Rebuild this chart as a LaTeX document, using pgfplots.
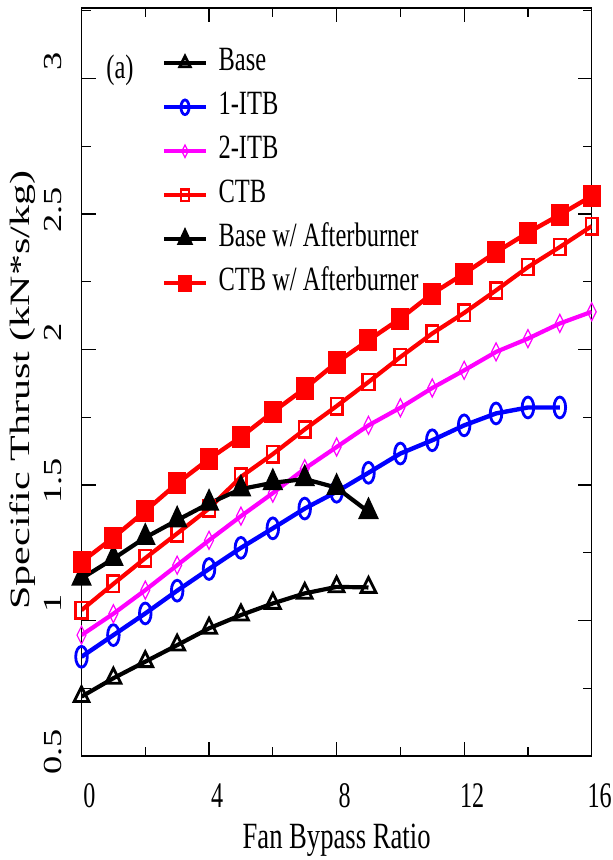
\documentclass[border=0pt]{standalone}
\usepackage{fontspec}
\setmainfont[FakeStretch=0.72]{Liberation Serif}
\newfontfamily\tickfont[FakeStretch=0.67]{Liberation Serif}
\newfontfamily\rotfont[FakeStretch=1.4]{Liberation Serif}
\newfontfamily\rotlabfont[FakeStretch=1.5]{Liberation Serif}
\usepackage{pgfplots}
\pgfplotsset{compat=1.18}
\definecolor{cblue}{RGB}{0,0,255}
\definecolor{cred}{RGB}{255,0,0}
\definecolor{cmag}{RGB}{255,0,255}

\begin{document}
\begin{tikzpicture}
\path[use as bounding box] (0,0) rectangle (306.5pt,430pt);
\begin{axis}[
  at={(40.75pt,52pt)}, anchor=south west,
  scale only axis, width=255.1pt, height=374pt,
  xmin=0, xmax=16, ymin=0.5, ymax=3.26,
  xtick={0,4,8,12,16}, minor xtick={2,6,10,14},
  ytick={0.5,1,1.5,2,2.5,3}, minor ytick={0.75,1.25,1.75,2.25,2.75,3.25},
  tick align=inside,
  major tick length=7pt, minor tick length=4.5pt,
  every tick/.style={black, line width=0.6pt},
  axis line style={line width=0.6pt},
  /pgf/number format/assume math mode=true,
  xticklabel style={font=\tickfont\fontsize{18}{18}\selectfont, anchor=north, inner sep=0pt, xshift=4pt, yshift=-13.5pt},
  yticklabel style={font=\rotfont\fontsize{13}{13}\selectfont, inner sep=0pt, xshift=-10.25pt, yshift=13.5pt, rotate=90, anchor=base east},
  xlabel={Fan Bypass Ratio},
  xlabel style={font=\fontsize{18.5}{18.5}\selectfont, at={(axis description cs:0.5,0)}, anchor=base, yshift=-46pt, inner sep=0pt},
  ylabel={Specific Thrust (kN*s/kg)},
  ylabel style={font=\rotlabfont\fontsize{14}{14}\selectfont, at={(axis description cs:-0.1147,0.489)}, anchor=center, inner sep=0pt},
  legend image code/.code={\draw[mark repeat=2,mark phase=2,#1, every mark/.append style={scale=0.7}] plot coordinates {(0pt,0pt) (10.4pt,0pt) (20.8pt,0pt)};},
  legend cell align=left,
  legend style={at={(axis description cs:0.157,0.944)}, anchor=north west, draw=none, fill=none,
    font=\fontsize{17}{17}\selectfont, inner sep=0pt, row sep=9pt, column sep=5.3pt,
    nodes={inner sep=0pt, text height=10pt, text depth=3pt}},
]
% Base
\addplot[black, line width=2.1pt, mark=triangle, mark size=4.3pt, mark options={solid, line width=1.4pt, yscale=1.15}] coordinates {
(0,0.719) (1,0.787) (2,0.848) (3,0.909) (4,0.971) (5,1.020) (6,1.063) (7,1.100) (8,1.124) (9,1.122)};
\addlegendentry{Base}
% 1-ITB
\addplot[cblue, line width=2.2pt, mark=o, mark size=2.9pt, mark options={solid, line width=1.4pt, yscale=1.8}] coordinates {
(0,0.866) (1,0.946) (2,1.026) (3,1.110) (4,1.190) (5,1.268) (6,1.340) (7,1.413) (8,1.475) (9,1.545) (10,1.616) (11,1.665) (12,1.720) (13,1.764) (14,1.786) (15,1.786)};
\addlegendentry{1-ITB}
% 2-ITB
\addplot[cmag, line width=2.1pt, mark=diamond, mark size=3pt, mark options={solid, line width=0.6pt, yscale=1.5}] coordinates {
(0,0.946) (1,1.025) (2,1.112) (3,1.204) (4,1.296) (5,1.385) (6,1.470) (7,1.560) (8,1.640) (9,1.720) (10,1.785) (11,1.858) (12,1.923) (13,1.991) (14,2.040) (15,2.096) (16,2.139)};
\addlegendentry{2-ITB}
% CTB
\addplot[cred, line width=2.1pt, mark=square, mark size=2.9pt, mark options={solid, line width=1.3pt, yscale=1.4}] coordinates {
(0,1.038) (1,1.135) (2,1.230) (3,1.321) (4,1.413) (5,1.530) (6,1.614) (7,1.705) (8,1.791) (9,1.880) (10,1.972) (11,2.059) (12,2.135) (13,2.218) (14,2.304) (15,2.378) (16,2.455)};
\addlegendentry{CTB}
% Base w/ Afterburner
\addplot[black, line width=2.1pt, mark=triangle*, mark size=4.1pt, mark options={solid, yscale=1.25}] coordinates {
(0,1.155) (1,1.228) (2,1.306) (3,1.370) (4,1.432) (5,1.485) (6,1.508) (7,1.522) (8,1.490) (9,1.401)};
\addlegendentry{Base w/ Afterburner}
% CTB w/ Afterburner
\addplot[cred, line width=2.2pt, mark=square*, mark size=3.4pt, mark options={solid, yscale=1.3}] coordinates {
(0,1.216) (1,1.306) (2,1.404) (3,1.506) (4,1.596) (5,1.677) (6,1.769) (7,1.856) (8,1.952) (9,2.034) (10,2.114) (11,2.206) (12,2.280) (13,2.359) (14,2.431) (15,2.497) (16,2.566)};
\addlegendentry{CTB w/ Afterburner}
\node[font=\fontsize{17}{17}\selectfont, inner sep=0pt] at (axis description cs:0.0755,0.917) {(a)};
\end{axis}
\end{tikzpicture}
\end{document}
